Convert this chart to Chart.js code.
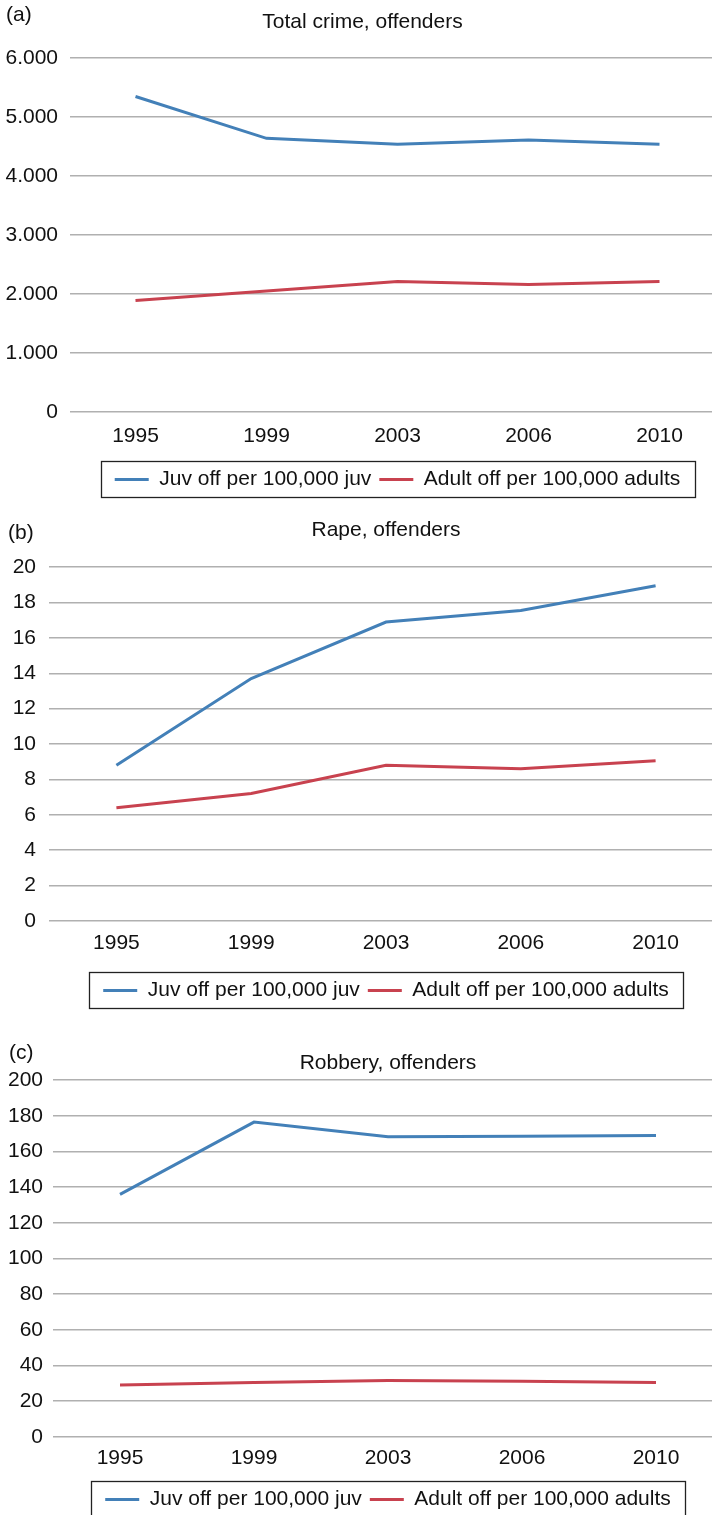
<!DOCTYPE html>
<html>
<head>
<meta charset="utf-8">
<script src="https://cdn.jsdelivr.net/npm/chart.js@4"></script>
<style>
  html, body { margin: 0; padding: 0; background: #fff; }
  #page { position: relative; width: 712px; height: 1515px; overflow: hidden; background: #fff; }
  .panel { position: absolute; left: 0; }
  .tag { position: absolute; font-family: "Liberation Sans", Arial, sans-serif; font-size: 21px; color: #111; line-height: 1; }
</style>
</head>
<body>
<div id="page">
  <div class="panel" id="pa" style="top:0;width:732px;height:500px"><canvas id="ca"></canvas></div>
  <div class="panel" id="pb" style="top:500px;width:723px;height:511px"><canvas id="cb"></canvas></div>
  <div class="panel" id="pc" style="top:1010px;width:723px;height:510px"><canvas id="cc"></canvas></div>
  <span class="tag" style="left:6px;top:3px">(a)</span>
  <span class="tag" style="left:8px;top:521px">(b)</span>
  <span class="tag" style="left:9px;top:1041px">(c)</span>
</div>
<script>
// Survey years on the category axis
const years = ['1995', '1999', '2003', '2006', '2010'];

// Legend / series names
const juvLabel = 'Juv off per 100,000 juv';
const adultLabel = 'Adult off per 100,000 adults';

// (a) Total crime, offenders
const totalJuv = [5350, 4640, 4540, 4610, 4540];
const totalAdult = [1890, 2050, 2210, 2160, 2210];

// (b) Rape, offenders
const rapeJuv = [8.8, 13.7, 16.9, 17.55, 18.95];
const rapeAdult = [6.4, 7.2, 8.8, 8.6, 9.05];

// (c) Robbery, offenders
const robberyJuv = [136, 176.5, 168.3, 168.6, 169];
const robberyAdult = [29, 30.4, 31.6, 31.2, 30.5];

const FONT = '"Liberation Sans", Arial, sans-serif';
const BLUE = '#4380B8';
const RED = '#C8424F';
const GRID = '#b0b0b0';

// Draws the thin black frame around the legend items
const legendFrame = {
  id: 'legendFrame',
  afterDraw(chart) {
    const lg = chart.legend;
    if (!lg || !lg.legendHitBoxes || !lg.legendHitBoxes.length) return;
    const boxes = lg.legendHitBoxes;
    let l = Infinity, r = -Infinity, t = Infinity, b = -Infinity;
    boxes.forEach(h => {
      l = Math.min(l, h.left); r = Math.max(r, h.left + h.width);
      t = Math.min(t, h.top); b = Math.max(b, h.top + h.height);
    });
    const ctx = chart.ctx;
    ctx.save();
    ctx.strokeStyle = '#222';
    ctx.lineWidth = 1.3;
    ctx.strokeRect(Math.round(l - 14) + 0.5, Math.round(t - 8) + 0.5, Math.round(r - l + 28), Math.round(b - t + 15));
    ctx.restore();
  }
};

function dotThousands(v) {
  return String(v).replace(/\B(?=(\d{3})+(?!\d))/g, '.');
}

function makeChart(id, o) {
  return new Chart(document.getElementById(id), {
    type: 'line',
    data: {
      labels: years,
      datasets: [
        { label: juvLabel, data: o.juv, borderColor: BLUE, backgroundColor: BLUE, borderWidth: 3, pointRadius: 0, tension: 0 },
        { label: adultLabel, data: o.adult, borderColor: RED, backgroundColor: RED, borderWidth: 3, pointRadius: 0, tension: 0 }
      ]
    },
    options: {
      responsive: true,
      maintainAspectRatio: false,
      animation: false,
      layout: { padding: o.pad },
      plugins: {
        tooltip: { enabled: false },
        title: {
          display: true,
          text: o.title,
          color: '#111',
          fullSize: o.titleFull,
          font: { family: FONT, size: 21, weight: 'normal' },
          padding: o.titlePad
        },
        legend: {
          position: 'bottom',
          fullSize: false,
          labels: {
            usePointStyle: true,
            pointStyle: 'line',
            pointStyleWidth: 34,
            padding: 8,
            color: '#111',
            font: { family: FONT, size: 21 }
          }
        }
      },
      scales: {
        x: {
          offset: true,
          grid: { display: false, drawTicks: false },
          border: { display: false },
          ticks: { color: '#111', padding: o.xPad, font: { family: FONT, size: 21 } },
          afterFit(s) { s.height += o.legendGap; }
        },
        y: {
          min: 0,
          max: o.max,
          grid: { color: GRID, lineWidth: 1.5, drawTicks: false },
          border: { display: false },
          ticks: {
            stepSize: o.step,
            padding: o.yPad,
            color: '#111',
            font: { family: FONT, size: 21 },
            callback: o.fmt || (v => v)
          },
          afterFit(s) { s.width = o.yWidth; }
        }
      }
    },
    plugins: [legendFrame]
  });
}

makeChart('ca', {
  title: 'Total crime, offenders', juv: totalJuv, adult: totalAdult,
  max: 6000, step: 1000, fmt: v => dotThousands(v),
  pad: { left: 0, right: 7, top: 0, bottom: 0 },
  titleFull: true, titlePad: { top: 10, bottom: 23 },
  xPad: 12, legendGap: 0, yPad: 12, yWidth: 70
});

makeChart('cb', {
  title: 'Rape, offenders', juv: rapeJuv, adult: rapeAdult,
  max: 20, step: 2,
  pad: { left: 0, right: 0, top: 0, bottom: 0 },
  titleFull: false, titlePad: { top: 18, bottom: 24 },
  xPad: 10, legendGap: 6, yPad: 13, yWidth: 49
});

makeChart('cc', {
  title: 'Robbery, offenders', juv: robberyJuv, adult: robberyAdult,
  max: 200, step: 20,
  pad: { left: 0, right: 0, top: 0, bottom: 0 },
  titleFull: false, titlePad: { top: 41, bottom: 4 },
  xPad: 9, legendGap: 1, yPad: 10, yWidth: 53
});
</script>
</body>
</html>
